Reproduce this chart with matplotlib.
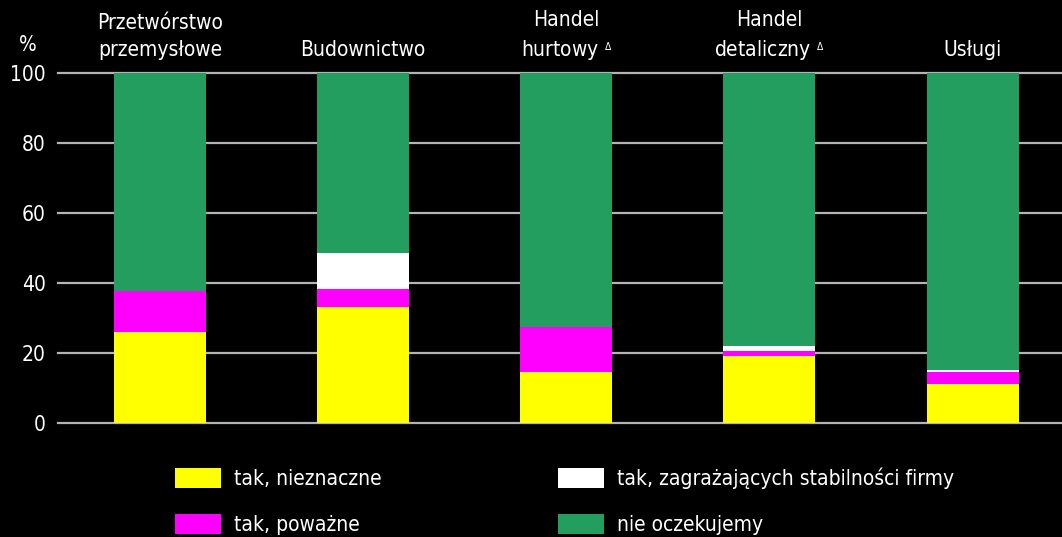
import matplotlib
matplotlib.use("Agg")
import matplotlib.pyplot as plt
from matplotlib.patches import Patch
import numpy as np

plt.rcParams['font.family'] = ['DejaVu Sans']
plt.rcParams['font.stretch'] = 'condensed'

# data (% of firms)
categories = ["Przetwórstwo\nprzemysłowe", "Budownictwo", "Handel\nhurtowy $^{_\\Delta}$",
              "Handel\ndetaliczny $^{_\\Delta}$", "Usługi"]
minor = [26.1, 33.1, 14.7, 19.2, 11.2]        # tak, nieznaczne
serious = [11.5, 5.1, 12.7, 1.5, 3.3]         # tak, poważne
threatening = [0.0, 10.5, 0.0, 1.4, 0.6]      # tak, zagrażających stabilności firmy
none_expected = [100 - a - b - c for a, b, c in zip(minor, serious, threatening)]

series_labels = ["tak, nieznaczne", "tak, poważne",
                 "tak, zagrażających stabilności firmy", "nie oczekujemy"]
colors = ["#FFFF00", "#FF00FF", "#FFFFFF", "#239E5F"]

fig = plt.figure(figsize=(10.62, 5.37), dpi=100, facecolor="black")
ax = fig.add_axes([58 / 1062, 1 - 423 / 537, 1 - 58 / 1062, 350 / 537])
ax.set_facecolor("black")

x = np.arange(len(categories))
bottom = np.zeros(len(categories))
for vals, col in zip([minor, serious, threatening, none_expected], colors):
    ax.bar(x, vals, width=0.453, bottom=bottom, color=col, zorder=3)
    bottom += np.array(vals)

ax.set_xlim(-0.502, 4.44)
ax.set_ylim(0, 100)
ax.set_yticks(range(0, 101, 20))
ax.set_xticks([])
ax.tick_params(axis="y", length=0, pad=9, labelsize=15, labelcolor="white")
ax.grid(axis="y", color="#B4B4B4", linewidth=1.6, zorder=0)
for gl in ax.yaxis.get_gridlines():
    gl.set_clip_on(False)
for s in ax.spines.values():
    s.set_visible(False)

# category names above the bars
for i, cat in enumerate(categories):
    ax.text(i, 104.9, cat, ha="center", va="baseline", fontsize=15,
            color="white", linespacing=1.45, clip_on=False)

fig.text(28 / 1062, 1 - 45 / 537, "%", ha="center", va="center",
         fontsize=15, color="white")

handles = [Patch(facecolor=c) for c in colors]
leg_kw = dict(loc="upper left", frameon=False, fontsize=15, labelcolor="white",
              handlelength=2.2, handleheight=1.1, handletextpad=0.65,
              labelspacing=1.2)
fig.legend(handles[:2], series_labels[:2],
           bbox_to_anchor=(156 / 1062, 1 - 449 / 537), **leg_kw)
fig.legend(handles[2:], series_labels[2:],
           bbox_to_anchor=(539 / 1062, 1 - 449 / 537), **leg_kw)

fig.savefig("out.png", dpi=100, facecolor="black")
